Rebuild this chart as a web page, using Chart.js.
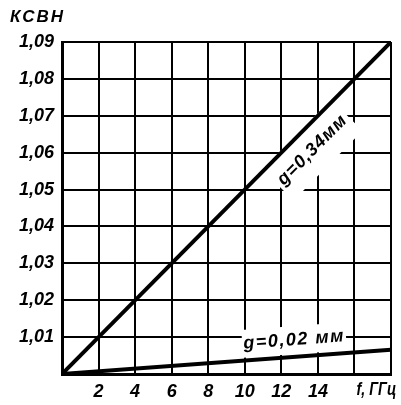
<!DOCTYPE html>
<html>
<head>
<meta charset="utf-8">
<script src="https://cdn.jsdelivr.net/npm/chart.js@4"></script>
<style>
  html, body { margin: 0; padding: 0; background: #fff; }
  #wrap { width: 401px; height: 405px; }
</style>
</head>
<body>
<div id="wrap"><canvas id="vswrChart" width="401" height="405"></canvas></div>
<script>
// frequency, GHz
const freqGHz = [0, 18];
// КСВН for slot g = 0,34 мм
const vswrWide = [1.00, 1.09];
// КСВН for slot g = 0,02 мм
const vswrNarrow = [1.00, 1.0066];

const xTickLabels = [2, 4, 6, 8, 10, 12, 14];
const yTickLabels = [1.01, 1.02, 1.03, 1.04, 1.05, 1.06, 1.07, 1.08, 1.09];

const FONT = "'Liberation Sans', Arimo, sans-serif";

const toPoints = ys => freqGHz.map((f, i) => ({ x: f, y: ys[i] }));

// label text drawn beside each line, with a blank patch in the grid under it
const lineLabels = [
    { dataset: 0, text: 'g=0,34мм', x: 13.7, y: 1.0607, size: 18, spacing: 1, mask: [98, 44] },
    { dataset: 1, text: 'g=0,02 мм', x: 12.7, y: 1.0092, size: 18, spacing: 1.5, mask: [104, 28] }
];

function lineAngle(chart, index) {
    const pts = chart.getDatasetMeta(index).data;
    const a = pts[0], b = pts[pts.length - 1];
    return Math.atan2(b.y - a.y, b.x - a.x);
}

const annotations = {
    id: 'annotations',
    beforeDatasetsDraw(chart) {
        const { ctx, scales: { x, y } } = chart;
        ctx.save();
        ctx.fillStyle = '#fff';
        lineLabels.forEach(l => {
            ctx.save();
            ctx.translate(x.getPixelForValue(l.x), y.getPixelForValue(l.y));
            ctx.rotate(lineAngle(chart, l.dataset));
            ctx.fillRect(-l.mask[0] / 2, -l.mask[1] / 2, l.mask[0], l.mask[1]);
            ctx.restore();
        });
        ctx.restore();
    },
    afterDatasetsDraw(chart) {
        const { ctx, chartArea, scales: { x, y } } = chart;
        ctx.save();
        ctx.fillStyle = '#000';
        ctx.textBaseline = 'middle';

        lineLabels.forEach(l => {
            ctx.save();
            ctx.font = `italic bold ${l.size}px ${FONT}`;
            ctx.letterSpacing = l.spacing + 'px';
            ctx.textAlign = 'center';
            ctx.translate(x.getPixelForValue(l.x), y.getPixelForValue(l.y));
            ctx.rotate(lineAngle(chart, l.dataset));
            ctx.fillText(l.text, 0, 0);
            ctx.restore();
        });

        // axis names
        ctx.font = `italic bold 17px ${FONT}`;
        ctx.letterSpacing = '2px';
        ctx.textAlign = 'left';
        ctx.fillText('КСВН', 10, chartArea.top - 25);

        // unit label sits in place of the 16 GHz tick, a bit narrowed to fit
        ctx.save();
        ctx.font = `italic bold 18px ${FONT}`;
        ctx.letterSpacing = '0px';
        ctx.translate(x.getPixelForValue(16) + 2, chartArea.bottom + 16);
        ctx.scale(0.8, 1);
        ctx.fillText('f, ГГц', 0, 0);
        ctx.restore();
        ctx.restore();
    }
};

const ctx = document.getElementById('vswrChart').getContext('2d');

new Chart(ctx, {
    type: 'scatter',
    data: {
        datasets: [
            {
                label: 'g=0,34 мм',
                data: toPoints(vswrWide),
                showLine: true,
                borderColor: '#000',
                borderWidth: 4,
                pointRadius: 0
            },
            {
                label: 'g=0,02 мм',
                data: toPoints(vswrNarrow),
                showLine: true,
                borderColor: '#000',
                borderWidth: 4,
                pointRadius: 0
            }
        ]
    },
    options: {
        responsive: false,
        animation: false,
        layout: { padding: { top: 42, right: 10, left: 0, bottom: 0 } },
        plugins: {
            legend: { display: false },
            tooltip: { enabled: false }
        },
        scales: {
            x: {
                type: 'linear',
                min: 0,
                max: 18,
                ticks: {
                    stepSize: 2,
                    padding: 7,
                    color: '#000',
                    font: { family: FONT, size: 18, style: 'italic', weight: 'bold' },
                    callback: v => xTickLabels.includes(v) ? String(v) : ''
                },
                grid: { color: '#000', lineWidth: 2, drawTicks: false },
                border: { display: true, color: '#000', width: 3 },
                afterFit: s => { s.height = 31; }
            },
            y: {
                min: 1.00,
                max: 1.09,
                ticks: {
                    stepSize: 0.01,
                    padding: 8,
                    color: '#000',
                    font: { family: FONT, size: 18, style: 'italic', weight: 'bold' },
                    callback: v => {
                        const r = Math.round(v * 100) / 100;
                        return yTickLabels.includes(r) ? r.toFixed(2).replace('.', ',') : '';
                    }
                },
                grid: { color: '#000', lineWidth: 2, drawTicks: false },
                border: { display: true, color: '#000', width: 3 },
                afterFit: s => { s.width = 62; }
            }
        }
    },
    plugins: [annotations]
});
</script>
</body>
</html>
